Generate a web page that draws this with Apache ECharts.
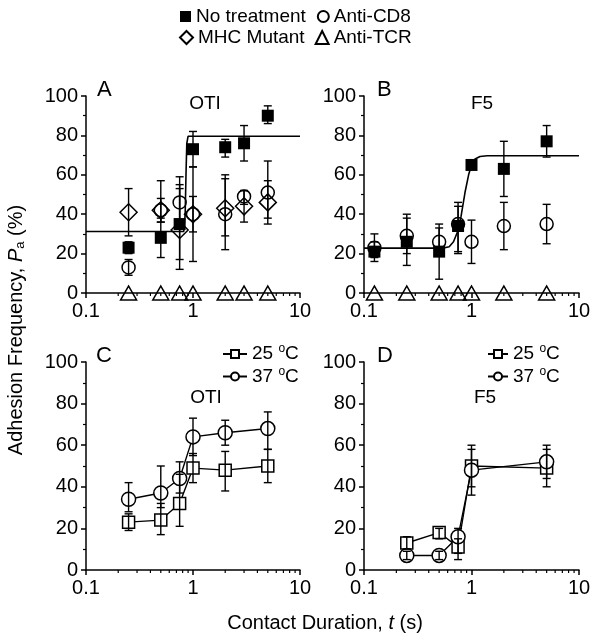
<!DOCTYPE html>
<html>
<head>
<meta charset="utf-8">
<script src="https://cdn.jsdelivr.net/npm/echarts@6/dist/echarts.min.js"></script>
<style>html,body{margin:0;padding:0;background:#fff;}#c{width:602px;height:644px;}</style>
</head>
<body>
<div id="c"></div>
<script>
// ---------- data ----------
const xTickLabels = ['0.1', '1', '10'];
const yTicks = [0, 20, 40, 60, 80, 100];
const xMinorTicks = [0.2, 0.3, 0.4, 0.5, 0.6, 0.7, 0.8, 0.9, 2, 3, 4, 5, 6, 7, 8, 9];

// Panel A (OTI)
const aX = [0.25, 0.5, 0.75, 1, 2, 3, 5];
const aNoTrt = [23, 28, 35, 73, 74, 76, 90];
const aNoTrtLo = [20, 18, 17, 64, 69, 67, 86];
const aNoTrtHi = [26, 38, 53, 82, 78, 85, 95];
const aCD8 = [13, 42, 46, 40, 40, 49, 51];
const aCD8Lo = [9, 36, 34, 31, 22, 45, 38];
const aCD8Hi = [17, 48, 59, 49, 58, 52, 67];
const aMHC = [41, 42, 32, 40, 43, 44, 46];
const aMHCLo = [29, 36, 12, 16, 29, 36, 35];
const aMHCHi = [53, 57, 55, 64, 60, 52, 57];
const aTCR = [0, 0, 0, 0, 0, 0, 0];
const aFitX = [0.1, 0.82, 0.845, 0.86, 0.875, 0.9, 10];
const aFitY = [31.2, 31.3, 40, 60, 76, 79.6, 79.6];

// Panel B (F5)
const bX = [0.125, 0.25, 0.5, 0.75, 1, 2, 5];
const bNoTrt = [21, 26, 21, 34, 65, 63, 77];
const bNoTrtLo = [16, 20, 7, 21, 63, 49, 69];
const bNoTrtHi = [26, 38, 35, 46, 67, 77, 85];
const bCD8 = [23, 29, 26, 35, 26, 34, 35];
const bCD8Lo = [18, 14, 20, 20, 15, 22, 25];
const bCD8Hi = [30, 40, 33, 44, 37, 46, 45];
const bTCR = [0, 0, 0, 0, 0, 0, 0];
const bFitX = [0.1, 0.55, 0.62, 0.68, 0.74, 0.8, 0.87, 0.94, 1.0, 1.08, 1.2, 1.4, 10];
const bFitY = [22.8, 22.8, 23.5, 26, 31, 39, 51, 60, 65, 68, 69.3, 69.7, 69.7];

// Panel C (OTI, temperature)
const cX = [0.25, 0.5, 0.75, 1, 2, 5];
const c25 = [23, 24, 32, 49, 48, 50];
const c25Lo = [19, 17, 21, 42, 38, 42];
const c25Hi = [27, 32, 46, 56, 57, 58];
const c37 = [34, 37, 44, 64, 66, 68];
const c37Lo = [28, 30, 37, 55, 60, 58];
const c37Hi = [42, 50, 52, 73, 72, 76];

// Panel D (F5, temperature)
const dX = [0.25, 0.5, 0.75, 1, 5];
const d25 = [13, 18, 11, 50, 49];
const d25Lo = [10, 15, 5, 40, 40];
const d25Hi = [16, 20, 15, 60, 58];
const d37 = [7, 7, 16, 48, 52];
const d37Lo = [5, 5, 8, 36, 44];
const d37Hi = [9, 9, 20, 58, 60];

// ---------- helpers ----------
const F = '"Liberation Sans", Arial, sans-serif';
const K = '#000';
const zip = (xs, ys) => xs.map((x, i) => [x, ys[i]]);
const zip3 = (xs, lo, hi) => xs.map((x, i) => [x, lo[i], hi[i]]);

function errRender(params, api) {
  const x = api.value(0), lo = api.value(1), hi = api.value(2);
  const p1 = api.coord([x, lo]), p2 = api.coord([x, hi]);
  const w = 4;
  const st = { stroke: K, lineWidth: 1.4 };
  return { type: 'group', children: [
    { type: 'line', shape: { x1: p1[0], y1: p1[1], x2: p2[0], y2: p2[1] }, style: st },
    { type: 'line', shape: { x1: p1[0] - w, y1: p1[1], x2: p1[0] + w, y2: p1[1] }, style: st },
    { type: 'line', shape: { x1: p2[0] - w, y1: p2[1], x2: p2[0] + w, y2: p2[1] }, style: st }
  ]};
}
function minorRender(params, api) {
  const p = api.coord([api.value(0), 0]);
  return { type: 'line', shape: { x1: p[0], y1: p[1], x2: p[0], y2: p[1] + 3 }, style: { stroke: K, lineWidth: 1.2 } };
}
function errSeries(gi, data, z) {
  return { type: 'custom', xAxisIndex: gi, yAxisIndex: gi, renderItem: errRender, data: data,
    encode: { x: 0, y: [1, 2] }, z: z || 1, silent: true, clip: false };
}
function minorSeries(gi) {
  return { type: 'custom', xAxisIndex: gi, yAxisIndex: gi, renderItem: minorRender,
    data: xMinorTicks.map(v => [v, 0]), encode: { x: 0, y: 1 }, z: 1, silent: true, clip: false };
}
function xAx(gi) {
  return { type: 'log', logBase: 10, min: 0.1, max: 10, gridIndex: gi,
    axisLine: { show: true, onZero: false, lineStyle: { color: K, width: 1.5 } },
    axisTick: { show: true, inside: false, length: 5, lineStyle: { color: K, width: 1.5 } },
    axisLabel: { color: K, fontSize: 20, fontFamily: F, margin: 8,
      formatter: v => { const e = Math.round(Math.log10(v)) + 1; return xTickLabels[e] || ''; } },
    splitLine: { show: false }, minorTick: { show: false } };
}
function yAx(gi) {
  return { type: 'value', min: yTicks[0], max: yTicks[yTicks.length - 1], interval: 20, gridIndex: gi,
    axisLine: { show: true, lineStyle: { color: K, width: 1.5 } },
    axisTick: { show: true, inside: false, length: 5, lineStyle: { color: K, width: 1.5 } },
    minorTick: { show: true, splitNumber: 2, length: 3, lineStyle: { color: K, width: 1.2 } },
    axisLabel: { color: K, fontSize: 20, fontFamily: F, margin: 8 },
    splitLine: { show: false } };
}
const open = { color: 'rgba(255,255,255,0)', borderColor: K, borderWidth: 1.5, opacity: 1 };
const filled = { color: K, borderColor: K, borderWidth: 0, opacity: 1 };
function scat(name, gi, data, symbol, size, style) {
  return { name: name, type: 'scatter', xAxisIndex: gi, yAxisIndex: gi, data: data,
    symbol: symbol, symbolSize: size, itemStyle: style, z: 3, clip: false };
}
function fit(gi, data) {
  return { type: 'line', xAxisIndex: gi, yAxisIndex: gi, data: data, showSymbol: false, symbol: 'none',
    lineStyle: { color: K, width: 1.6 }, z: 2, silent: true, clip: false };
}
const tempFill = { color: '#fff', borderColor: K, borderWidth: 1.5, opacity: 1 };
function tline(name, gi, data, symbol, size) {
  return { name: name, type: 'line', xAxisIndex: gi, yAxisIndex: gi, data: data, symbol: symbol,
    symbolSize: size, showSymbol: true, itemStyle: tempFill, lineStyle: { color: K, width: 1.4 }, z: 3, clip: false };
}

const sup = { s: { fontSize: 12, fontFamily: F, color: K, verticalAlign: 'top', padding: [0, 0, 10, 0] } };
const legendText = { color: K, fontSize: 19, fontFamily: F, rich: sup };
const tempFmt = n => n.replace('°', '{s|o}');

const chart = echarts.init(document.getElementById('c'), null, { renderer: 'canvas' });
chart.setOption({
  animation: false,
  backgroundColor: '#fff',
  grid: [
    { left: 86, width: 214, top: 96, height: 197 },
    { left: 364, width: 215, top: 96, height: 197 },
    { left: 86, width: 214, top: 362, height: 208 },
    { left: 364, width: 215, top: 362, height: 208 }
  ],
  xAxis: [xAx(0), xAx(1), xAx(2), xAx(3)],
  yAxis: [yAx(0), yAx(1), yAx(2), yAx(3)],
  legend: [
    { data: ['No treatment', 'Anti-CD8'], left: 180, top: 7, itemWidth: 11, itemHeight: 11, itemGap: 11,
      textStyle: legendText, padding: 0, selectedMode: false },
    { data: ['MHC Mutant', 'Anti-TCR'], left: 179, top: 28, itemWidth: 13, itemHeight: 13, itemGap: 10,
      textStyle: legendText, padding: 0, selectedMode: false },
    { data: ['25 °C', '37 °C'], orient: 'vertical', left: 222, top: 343, itemWidth: 24, itemHeight: 10, itemGap: 2,
      textStyle: legendText, formatter: tempFmt, padding: 0, selectedMode: false },
    { data: ['25 °C', '37 °C'], orient: 'vertical', left: 487, top: 343, itemWidth: 20, itemHeight: 10, itemGap: 2,
      textStyle: legendText, formatter: tempFmt, padding: 0, selectedMode: false }
  ],
  graphic: [
    { type: 'text', left: 97, top: 79, style: { text: 'A', fontSize: 22, fontFamily: F, fill: K } },
    { type: 'text', left: 377, top: 79, style: { text: 'B', fontSize: 22, fontFamily: F, fill: K } },
    { type: 'text', left: 96, top: 345, style: { text: 'C', fontSize: 22, fontFamily: F, fill: K } },
    { type: 'text', left: 377, top: 345, style: { text: 'D', fontSize: 22, fontFamily: F, fill: K } },
    { type: 'text', x: 205, y: 104, style: { text: 'OTI', fontSize: 19, fontFamily: F, fill: K, align: 'center', verticalAlign: 'middle' } },
    { type: 'text', x: 482, y: 104, style: { text: 'F5', fontSize: 19, fontFamily: F, fill: K, align: 'center', verticalAlign: 'middle' } },
    { type: 'text', x: 206, y: 398, style: { text: 'OTI', fontSize: 19, fontFamily: F, fill: K, align: 'center', verticalAlign: 'middle' } },
    { type: 'text', x: 485, y: 398, style: { text: 'F5', fontSize: 19, fontFamily: F, fill: K, align: 'center', verticalAlign: 'middle' } },
    { type: 'text', x: 16, y: 330, rotation: Math.PI / 2,
      style: { text: 'Adhesion Frequency, {i|P}{sub|a} (%)', fontSize: 20, fontFamily: F, fill: K, align: 'center', verticalAlign: 'middle',
        rich: { i: { fontSize: 20, fontFamily: F, fontStyle: 'italic', fill: K },
                sub: { fontSize: 13, fontFamily: F, fill: K, verticalAlign: 'bottom', padding: [8, 0, 0, 0] } } } },
    { type: 'text', x: 325, y: 623,
      style: { text: 'Contact Duration, {i|t} (s)', fontSize: 20, fontFamily: F, fill: K, align: 'center', verticalAlign: 'middle',
        rich: { i: { fontSize: 20, fontFamily: F, fontStyle: 'italic', fill: K } } } }
  ],
  series: [
    // Panel A
    minorSeries(0),
    errSeries(0, zip3(aX, aNoTrtLo, aNoTrtHi)),
    errSeries(0, zip3(aX, aCD8Lo, aCD8Hi)),
    errSeries(0, zip3(aX, aMHCLo, aMHCHi)),
    fit(0, zip(aFitX, aFitY)),
    scat('No treatment', 0, zip(aX, aNoTrt), 'rect', 12, filled),
    scat('Anti-CD8', 0, zip(aX, aCD8), 'circle', 13, open),
    scat('MHC Mutant', 0, zip(aX, aMHC), 'diamond', 17, open),
    scat('Anti-TCR', 0, zip(aX, aTCR), 'triangle', [16, 14], open),
    // Panel B
    minorSeries(1),
    errSeries(1, zip3(bX, bNoTrtLo, bNoTrtHi)),
    errSeries(1, zip3(bX, bCD8Lo, bCD8Hi)),
    fit(1, zip(bFitX, bFitY)),
    scat('No treatment', 1, zip(bX, bNoTrt), 'rect', 12, filled),
    scat('Anti-CD8', 1, zip(bX, bCD8), 'circle', 13, open),
    scat('Anti-TCR', 1, zip(bX, bTCR), 'triangle', [16, 14], open),
    // Panel C
    minorSeries(2),
    tline('25 °C', 2, zip(cX, c25), 'rect', 12),
    tline('37 °C', 2, zip(cX, c37), 'circle', 14),
    errSeries(2, zip3(cX, c25Lo, c25Hi), 4),
    errSeries(2, zip3(cX, c37Lo, c37Hi), 4),
    // Panel D
    minorSeries(3),
    tline('25 °C', 3, zip(dX, d25), 'rect', 12),
    tline('37 °C', 3, zip(dX, d37), 'circle', 14),
    errSeries(3, zip3(dX, d25Lo, d25Hi), 4),
    errSeries(3, zip3(dX, d37Lo, d37Hi), 4)
  ]
});
</script>
</body>
</html>
